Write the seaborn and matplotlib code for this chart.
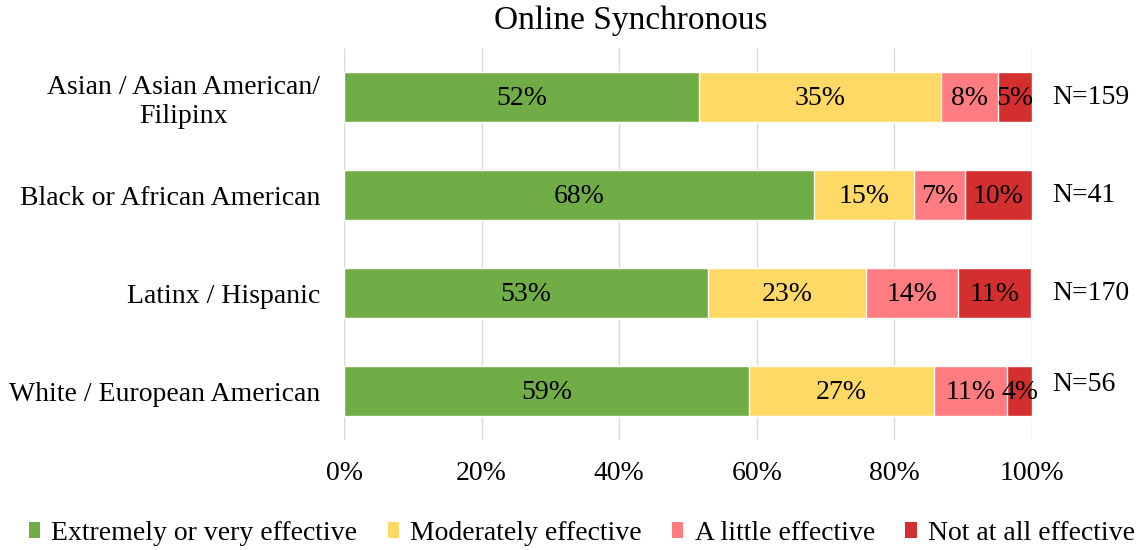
import pandas as pd
import matplotlib
matplotlib.use('Agg')
import matplotlib.pyplot as plt
import seaborn as sns
from matplotlib.patches import Patch

# data (percent of respondents)
groups = ['Asian / Asian American/\nFilipinx', 'Black or African American',
          'Latinx / Hispanic', 'White / European American']
n_labels = ['N=159', 'N=41', 'N=170', 'N=56']
levels = ['Extremely or very effective', 'Moderately effective',
          'A little effective', 'Not at all effective']
extremely = [51.6, 68.3, 52.9, 58.9]
moderately = [35.2, 14.6, 22.9, 26.8]
little = [8.2, 7.3, 13.5, 10.7]
not_at_all = [5.0, 9.8, 10.6, 3.6]
colors = ['#70AD47', '#FFD966', '#FF7C80', '#D32F2F']

sns.set_theme(style='white', rc={'text.color': 'black', 'xtick.color': 'black',
                                 'ytick.color': 'black', 'axes.labelcolor': 'black'})
plt.rcParams['font.family'] = ['Liberation Serif', 'DejaVu Serif']

df = pd.DataFrame({'group': groups, levels[0]: extremely, levels[1]: moderately,
                   levels[2]: little, levels[3]: not_at_all})
cum = df[levels].cumsum(axis=1)

fig = plt.figure(figsize=(11.41, 5.5), dpi=100)
ax = fig.add_axes([0.3015, 0.2, 0.603, 0.7127])

# stacked look: draw cumulative totals from the outside in
for lvl, col in reversed(list(zip(levels, colors))):
    sns.barplot(x=cum[lvl], y=df['group'], color=col, width=0.515,
                saturation=1, orient='h', ax=ax, zorder=2)

# segment labels
for i in range(len(groups)):
    start = 0
    for lvl in levels:
        v = df.loc[i, lvl]
        ax.text(start + v / 2, i + 0.02, f'{v:.0f}%', ha='center', va='center',
                fontsize=20, zorder=3)
        start += v
    ax.text(103, i - (0.07 if i == 3 else 0), n_labels[i], ha='left',
            va='center', fontsize=20, clip_on=False)

ax.set_xlim(0, 100)
ax.set_ylim(3.5, -0.5)
ax.set_xticks(range(0, 101, 20))
ax.set_xticklabels([f'{t}%' for t in range(0, 101, 20)], fontsize=20)
ax.tick_params(axis='x', length=0, pad=15)
ax.tick_params(axis='y', length=0, pad=17, labelsize=20)
for lab in ax.get_yticklabels():
    lab.set_multialignment('center')
    lab.set_linespacing(1.2)
ax.xaxis.grid(True, color='#D9D9D9', linewidth=1)
ax.set_axisbelow(True)
sns.despine(ax=ax, left=True, bottom=True)
ax.set_xlabel('')
ax.set_ylabel('')
fig.text(0.553, 0.962, 'Online Synchronous', ha='center', va='center', fontsize=24)

handles = [Patch(facecolor=c, edgecolor='none', label=l) for c, l in zip(colors, levels)]
fig.legend(handles=handles, loc='center', bbox_to_anchor=(0.51, 0.03), ncol=4,
           frameon=False, fontsize=20, handlelength=0.4, handleheight=0.5,
           handletextpad=0.4, columnspacing=1.1, borderpad=0)

plt.savefig('out.png', dpi=100)
plt.close()
